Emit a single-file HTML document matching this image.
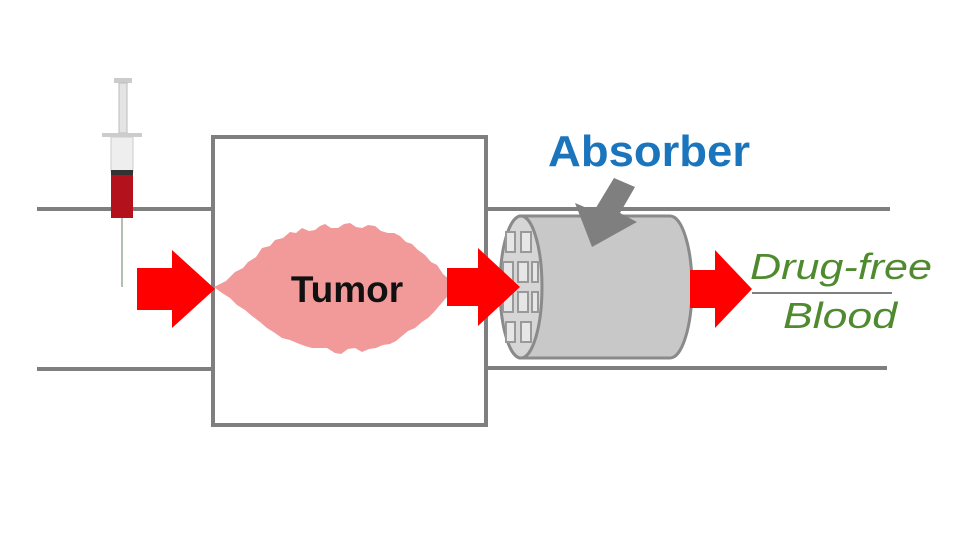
<!DOCTYPE html>
<html><head><style>html,body{margin:0;padding:0;background:#fff}svg{display:block}</style></head>
<body>
<svg width="960" height="541" viewBox="0 0 960 541" xmlns="http://www.w3.org/2000/svg">
<rect width="960" height="541" fill="#fff"/>
<g stroke="#7f7f7f" stroke-width="4" fill="none">
<line x1="37" y1="209" x2="212" y2="209"/>
<line x1="487" y1="209" x2="890" y2="209"/>
<line x1="37" y1="369" x2="212" y2="369"/>
<line x1="487" y1="368" x2="887" y2="368"/>
<rect x="213" y="137" width="273" height="288" fill="#fff"/>
</g>
<line x1="752" y1="293" x2="892" y2="293" stroke="#7f7f7f" stroke-width="2"/>
<path d="M214,287 L226,281 L235,272 L243,268 L248,262 L256,257 L262,248 L270,246 L275,240 L283,238 L290,232 L296,233 L302,228 L309,231 L315,230 L320,226 L325,224 L331,228 L338,228 L344,224 L350,223 L356,227 L362,228 L368,225 L375,226 L381,231 L388,233 L394,233 L400,236 L406,242 L412,244 L418,250 L425,255 L431,262 L437,265 L443,274 L450,280 L452,292 L446,298 L440,305 L434,312 L428,318 L422,322 L415,328 L408,331 L402,336 L396,341 L390,344 L383,345 L376,348 L369,349 L362,352 L355,348 L348,349 L341,354 L335,353 L327,348 L320,348 L312,348 L305,346 L297,343 L290,340 L282,338 L275,333 L267,328 L260,322 L252,316 L245,310 L237,305 L230,298 L222,293 Z" fill="#f29a9a"/>
<text x="347" y="302" font-family="Liberation Sans, sans-serif" font-weight="bold" font-size="37" text-anchor="middle" fill="#111">Tumor</text>
<rect x="114" y="78" width="18" height="5" fill="#ccc"/>
<rect x="119" y="83" width="8" height="50" fill="#e4e4e4" stroke="#bbb"/>
<rect x="102" y="133" width="40" height="4" fill="#ccc"/>
<rect x="111" y="137" width="22" height="35" fill="#eee" stroke="#ccc"/>
<rect x="111" y="170" width="22" height="5" fill="#333"/>
<rect x="111" y="175" width="22" height="43" fill="#b3121c"/>
<line x1="122" y1="218" x2="122" y2="287" stroke="#9a9" stroke-width="1.5"/>
<polygon points="137,268 172,268 172,250 215,289 172,328 172,310 137,310" fill="#f00"/>
<path d="M520,216 L670,216 A22,71 0 0 1 670,358 L520,358 Z" fill="#c8c8c8" stroke="#8a8a8a" stroke-width="3"/>
<ellipse cx="521" cy="287" rx="21" ry="71" fill="#d6d6d6" stroke="#8a8a8a" stroke-width="3"/>
<g fill="#e6e6e6" stroke="#999" stroke-width="2">
<rect x="506" y="232" width="9" height="20"/><rect x="521" y="232" width="10" height="20"/>
<rect x="503" y="262" width="10" height="20"/><rect x="518" y="262" width="10" height="20"/><rect x="532" y="262" width="6" height="20"/>
<rect x="503" y="292" width="10" height="20"/><rect x="518" y="292" width="10" height="20"/><rect x="532" y="292" width="6" height="20"/>
<rect x="506" y="322" width="9" height="20"/><rect x="521" y="322" width="10" height="20"/>
</g>
<polygon points="447,268 478,268 478,248 520,287 478,326 478,306 447,306" fill="#f00"/>
<polygon points="690,270 715,270 715,250 752,289 715,328 715,308 690,308" fill="#f00"/>
<polygon points="614,178 635,187 620,213 637,222 592,247 575,203 594,211" fill="#7f7f7f"/>
<text x="548" y="166" font-family="Liberation Sans, sans-serif" font-weight="bold" font-size="44" fill="#1b75bc" textLength="202" lengthAdjust="spacingAndGlyphs">Absorber</text>
<text x="750" y="279" font-family="Liberation Sans, sans-serif" font-style="italic" font-size="36" fill="#4f8a2f" textLength="182" lengthAdjust="spacingAndGlyphs">Drug-free</text>
<text x="783" y="328" font-family="Liberation Sans, sans-serif" font-style="italic" font-size="36" fill="#4f8a2f" textLength="114" lengthAdjust="spacingAndGlyphs">Blood</text>
</svg>
</body></html>
